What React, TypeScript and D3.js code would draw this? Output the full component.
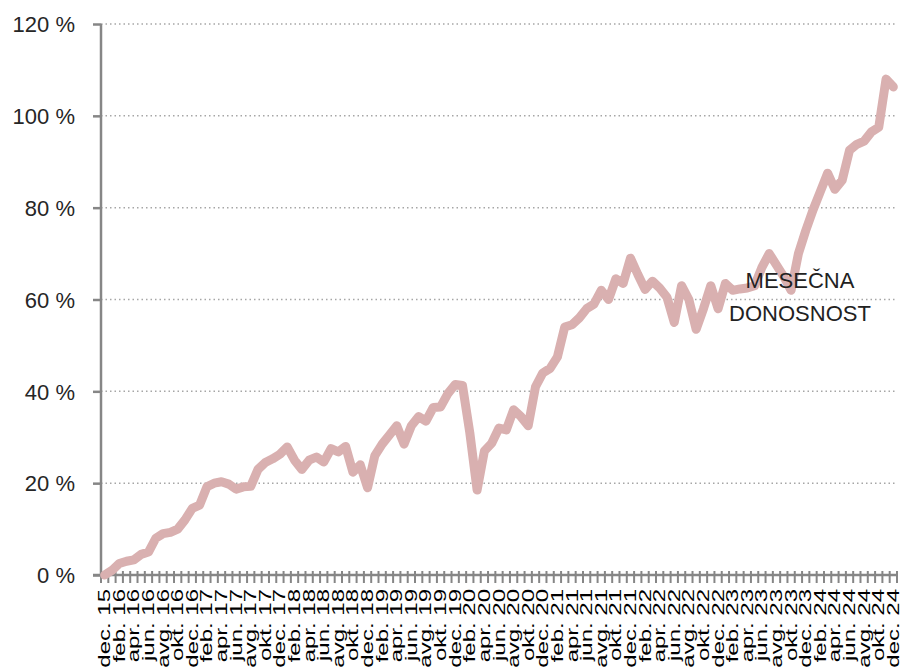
import React from "react";
import { useRef, useEffect } from "react";
import { select, scaleBand, scaleLinear, line, axisLeft, curveLinear } from "d3";

const monthNames = ["jan", "feb", "mar", "apr", "maj", "jun", "jul", "avg", "sep", "okt", "nov", "dec"];

// dec. 15 ... dec. 24, monthly
const categories: string[] = ["dec. 15"];
for (let y = 16; y <= 24; y++) {
  monthNames.forEach((m) => categories.push(`${m}. ${y}`));
}

// cumulative return in %
const returns = [
  0, 1, 2.5, 3, 3.3, 4.5, 5, 8, 9, 9.3, 10, 12, 14.5,
  15.2, 19.2, 20, 20.3, 19.8, 18.7, 19.2, 19.3, 23, 24.5, 25.3, 26.3, 27.9,
  25, 23, 25, 25.7, 24.6, 27.5, 26.8, 28, 22.4, 24, 19, 26,
  28.5, 30.5, 32.5, 28.5, 32.5, 34.5, 33.5, 36.5, 36.6, 39.5, 41.5, 41.3, 31,
  18.5, 27, 28.7, 32, 31.6, 36, 34.5, 32.5, 41, 44, 45, 47.5,
  54, 54.5, 56, 58, 59, 62, 60, 64.5, 63.5, 69, 65.5, 62.2, 64,
  62.5, 60.5, 55, 63, 60, 53.5, 58, 63, 58, 63.5, 62, 62.3, 62.5,
  63, 67, 70, 67.5, 65, 62, 70, 75, 79.5, 83.5, 87.5, 84, 86,
  92.5, 93.8, 94.5, 96.5, 97.5, 108, 106.3,
];

const yTicks = [0, 20, 40, 60, 80, 100, 120];
const annotation = ["MESEČNA", "DONOSNOST"];

function App() {
  const svgRef = useRef<SVGSVGElement>(null);

  useEffect(() => {
    const width = 906;
    const height = 672;
    const margin = { top: 24, right: 9, bottom: 97, left: 101 };
    const innerW = width - margin.left - margin.right;
    const innerH = height - margin.top - margin.bottom;

    const svg = select(svgRef.current);
    svg.selectAll("*").remove();
    svg.attr("width", width).attr("height", height);

    const g = svg.append("g").attr("transform", `translate(${margin.left},${margin.top})`);

    const xScale = scaleBand<string>().domain(categories).range([0, innerW]).padding(0);
    const yScale = scaleLinear().domain([0, 120]).range([innerH, 0]);

    // gridlines
    g.selectAll(".grid")
      .data(yTicks.filter((d) => d > 0))
      .enter()
      .append("line")
      .attr("x1", 0)
      .attr("x2", innerW)
      .attr("y1", (d) => yScale(d))
      .attr("y2", (d) => yScale(d))
      .attr("stroke", "#a6a6a6")
      .attr("stroke-width", 1.5)
      .attr("stroke-dasharray", "1.5 3");

    // y axis
    const yAxis = axisLeft(yScale)
      .tickValues(yTicks)
      .tickSize(8)
      .tickPadding(18)
      .tickFormat((d) => `${d} %`);
    const ya = g.append("g").call(yAxis);
    ya.select(".domain").attr("stroke", "#868686").attr("stroke-width", 2.5).attr("d", `M0,0V${innerH}`);
    ya.selectAll(".tick line").attr("stroke", "#868686").attr("stroke-width", 2.5);
    ya.selectAll("text")
      .attr("font-family", "'Liberation Sans', Arial, sans-serif")
      .attr("font-size", 22)
      .attr("fill", "#262626")
      .attr("dy", "0.35em");

    // x axis
    const xa = g.append("g").attr("transform", `translate(0,${innerH})`);
    xa.append("line")
      .attr("x1", -8)
      .attr("x2", innerW)
      .attr("stroke", "#868686")
      .attr("stroke-width", 2.5);
    const boundaries = categories.map((c) => xScale(c) as number).concat([innerW]);
    xa.selectAll(".xt")
      .data(boundaries)
      .enter()
      .append("line")
      .attr("x1", (d) => d)
      .attr("x2", (d) => d)
      .attr("y1", -4)
      .attr("y2", 8)
      .attr("stroke", "#868686")
      .attr("stroke-width", 2);

    const labelled = categories.filter((_, i) => i % 2 === 0);
    xa.selectAll(".xl")
      .data(labelled)
      .enter()
      .append("text")
      .attr(
        "transform",
        (d) => `translate(${(xScale(d) as number) + xScale.bandwidth() / 2 + 5.5},14) rotate(-90) scale(1.5,1)`
      )
      .attr("text-anchor", "end")
      .attr("font-family", "'Liberation Sans', Arial, sans-serif")
      .attr("font-size", 16)
      .attr("fill", "#000")
      .text((d) => d);

    // line
    const lineGen = line<number>()
      .x((_, i) => (xScale(categories[i]) as number) + xScale.bandwidth() / 2)
      .y((d) => yScale(d))
      .curve(curveLinear);
    g.append("path")
      .datum(returns)
      .attr("d", lineGen)
      .attr("fill", "none")
      .attr("stroke", "#d9b0b0")
      .attr("stroke-width", 9)
      .attr("stroke-linejoin", "round")
      .attr("stroke-linecap", "round");

    // annotation
    const ann = g
      .append("text")
      .attr("text-anchor", "middle")
      .attr("font-family", "'Liberation Sans', Arial, sans-serif")
      .attr("font-size", 22)
      .attr("fill", "#222");
    ann.selectAll("tspan")
      .data(annotation)
      .enter()
      .append("tspan")
      .attr("x", 800 - margin.left)
      .attr("y", (_, i) => 288 - margin.top + i * 33)
      .text((d) => d);
  }, []);

  return (
    <React.Fragment>
      <svg ref={svgRef} style={{ position: "absolute", left: 0, top: 0, background: "#fff" }} />
    </React.Fragment>
  );
}

export default App;
